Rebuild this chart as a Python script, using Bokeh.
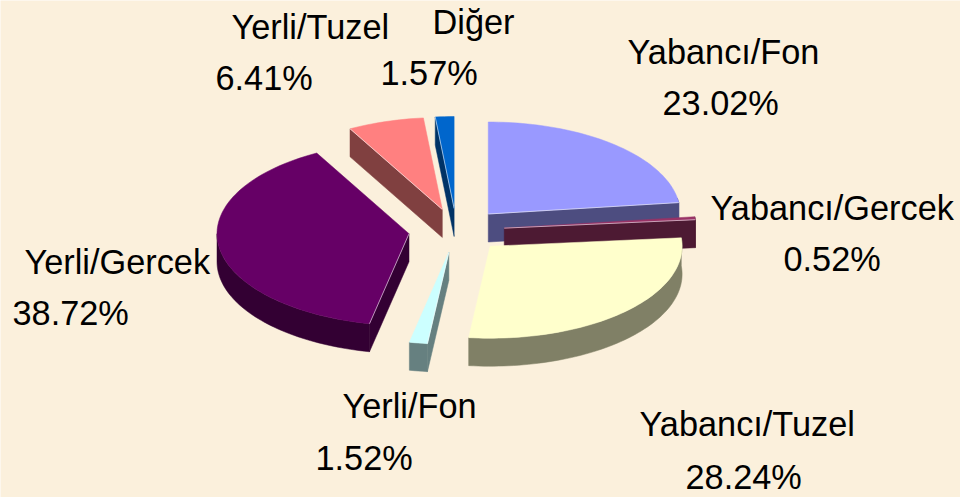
import math
from bokeh.plotting import figure
from bokeh.core.properties import value
from bokeh.embed import file_html
from bokeh.resources import INLINE

# data
categories = ["Yabancı/Fon", "Yabancı/Gercek", "Yabancı/Tuzel", "Yerli/Fon",
              "Yerli/Gercek", "Yerli/Tuzel", "Diğer"]
shares = [23.02, 0.52, 28.24, 1.52, 38.72, 6.41, 1.57]
top_colors = ["#9999FF", "#993366", "#FFFFCC", "#CCFFFF", "#660066", "#FF8080", "#0066CC"]
wall_colors = ["#4D4D80", "#4D1A33", "#808066", "#668080", "#330033", "#804040", "#003366"]

# layout
BG = "#FBF0DC"
CX, CY = 456, 230      # pie centre, reference pixels
RX, RY = 192, 92       # squashed radius
EX, EY = 48, 22        # explosion
DEPTH = 28
FONT_PX = 34.3
name_pos = [(627, 51), (710, 207), (639, 423), (342, 405), (24, 261), (231, 26), (432, 21)]
share_pos = [(662, 102), (783, 258), (685, 476), (315, 457), (12, 312), (215, 77), (380, 72)]
draw_order = [6, 5, 4, 0, 1, 2, 3]

p = figure(width=960, height=497, x_range=(0, 960), y_range=(497, 0),
           output_backend="svg", toolbar_location=None, min_border=0,
           outline_line_color=None, background_fill_color=BG, border_fill_color=BG)
p.axis.visible = False
p.grid.visible = False

# angles clockwise from 12 o'clock
starts, ends, acc = [], [], 0.0
total = sum(shares)
for s in shares:
    starts.append(acc)
    acc += s / total * 360
    ends.append(acc)


def pt(ax, ay, deg):
    r = math.radians(deg)
    return ax + RX * math.sin(r), ay - RY * math.cos(r)


def arc(ax, ay, a, b):
    n = max(2, int(abs(b - a) / 1.5) + 2)
    return [pt(ax, ay, a + (b - a) * i / (n - 1)) for i in range(n)]


for i in draw_order:
    a, b = starts[i], ends[i]
    mid = math.radians((a + b) / 2)
    ax = CX + EX * math.sin(mid)
    ay = CY - EY * math.cos(mid)
    walls, edges = [], []
    if 180 < a < 360:
        e = pt(ax, ay, a)
        walls.append([(ax, ay), e, (e[0], e[1] + DEPTH), (ax, ay + DEPTH)])
        edges.append(e)
    if 0 < b < 180:
        e = pt(ax, ay, b)
        walls.append([(ax, ay), e, (e[0], e[1] + DEPTH), (ax, ay + DEPTH)])
        edges.append(e)
    la, lb = max(a, 80), min(b, 270)
    if la < lb:
        rim = arc(ax, ay, la, lb)
        walls.append(rim + [(x, y + DEPTH) for x, y in reversed(rim)])
    for w in walls:
        p.patch([q[0] for q in w], [q[1] for q in w], fill_color=wall_colors[i],
                line_color=wall_colors[i], line_width=0.5)
    face = [(ax, ay)] + arc(ax, ay, a, b)
    p.patch([q[0] for q in face], [q[1] for q in face], fill_color=top_colors[i],
            line_color=top_colors[i], line_width=0.5)
    for e in edges:
        p.line([ax, e[0]], [ay, e[1]], line_color="#FFFFFF", line_alpha=0.55, line_width=1)

for i, name in enumerate(categories):
    p.text([name_pos[i][0]], [name_pos[i][1]], text=[name], text_font=value("Liberation Sans"),
           text_font_size=f"{FONT_PX}px", text_color="#000000",
           text_align="left", text_baseline="middle")
    p.text([share_pos[i][0]], [share_pos[i][1]], text=[f"{shares[i]:.2f}%"],
           text_font=value("Liberation Sans"), text_font_size=f"{FONT_PX}px",
           text_color="#000000", text_align="left", text_baseline="middle")

open("out.html", "w").write(file_html(p, INLINE))
